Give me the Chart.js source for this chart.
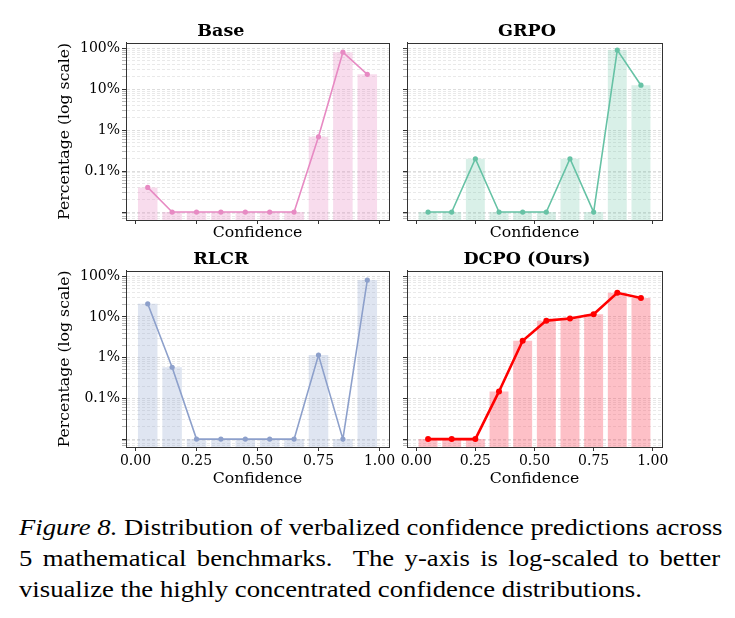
<!DOCTYPE html>
<html>
<head>
<meta charset="utf-8">
<script src="https://cdn.jsdelivr.net/npm/chart.js@4"></script>
<style>
  body { margin: 0; background: #fff; }
  #fig { position: relative; width: 735px; height: 618px; overflow: hidden; }
  .panel { position: absolute; }
  #caption {
    position: absolute; left: 19px; top: 511.7px; width: 604px;
    font-family: "Liberation Serif", "Times New Roman", serif;
    font-size: 23px; line-height: 31px; color: #000;
    transform: scaleX(1.161); transform-origin: 0 0;
  }
  #caption .ln { text-align: justify; text-align-last: justify; white-space: nowrap; }
  #caption .ln.last { text-align-last: left; }
</style>
</head>
<body>
<div id="fig">
  <canvas class="panel" id="cBase" width="400" height="250" style="left:0;top:0"></canvas>
  <canvas class="panel" id="cGrpo" width="290" height="250" style="left:392px;top:0"></canvas>
  <canvas class="panel" id="cRlcr" width="400" height="250" style="left:0;top:245px"></canvas>
  <canvas class="panel" id="cDcpo" width="290" height="250" style="left:392px;top:245px"></canvas>
  <div id="caption">
    <div class="ln"><i>Figure 8.</i> Distribution of verbalized confidence predictions across</div>
    <div class="ln">5 mathematical benchmarks.&nbsp; The y-axis is log-scaled to better</div>
    <div class="ln last">visualize the highly concentrated confidence distributions.</div>
  </div>
</div>
<script>
// bins of the confidence histogram
const binCenters = [0.05, 0.15, 0.25, 0.35, 0.45, 0.55, 0.65, 0.75, 0.85, 0.95];
const xTickValues = [0, 0.25, 0.5, 0.75, 1];
const xTickLabels = ['0.00', '0.25', '0.50', '0.75', '1.00'];
const yMajorValues = [0.01, 0.1, 1, 10, 100];
const yTickLabels = ['', '0.1%', '1%', '10%', '100%'];

// percentage per bin (log scale)
const baseValues = [0.04, 0.01, 0.01, 0.01, 0.01, 0.01, 0.01, 0.69, 80, 23];
const grpoValues = [0.01, 0.01, 0.2, 0.01, 0.01, 0.01, 0.2, 0.01, 90, 12.5];
const rlcrValues = [21, 0.58, 0.01, 0.01, 0.01, 0.01, 0.01, 1.16, 0.01, 80];
const dcpoValues = [0.01, 0.01, 0.01, 0.148, 2.6, 8.1, 9.1, 11.6, 39, 29];

const yMin = 0.0064, yMax = 137;
const xMin = -0.039, xMax = 1.039;

Chart.defaults.font.family = '"DejaVu Serif", serif';
Chart.defaults.color = '#000';

// major + minor ticks of the log axis
const yTicks = [];
[0.001].concat(yMajorValues).forEach(d => {
    for (let m = 1; m <= 9; m++) {
        const v = m === 1 ? d : d * m;
        if (v >= yMin && v <= yMax) yTicks.push(v);
    }
});
yTicks.sort((a, b) => a - b);

function isMajor(v) {
    return yMajorValues.some(d => Math.abs(v / d - 1) < 1e-9);
}

// frame around the axes like matplotlib spines
const framePlugin = {
    id: 'frame',
    afterDatasetsDraw(chart) {
        const { ctx, chartArea: a } = chart;
        ctx.save();
        ctx.strokeStyle = '#333';
        ctx.lineWidth = 1;
        ctx.strokeRect(Math.round(a.left) + 0.5, Math.round(a.top) + 0.5,
            Math.round(a.right - a.left), Math.round(a.bottom - a.top));
        ctx.restore();
    }
};

function makePanel(id, title, values, color, fill, p) {
    const pts = binCenters.map((x, i) => ({ x: x, y: values[i] }));
    new Chart(document.getElementById(id), {
        type: 'bar',
        data: {
            datasets: [
                {
                    type: 'line',
                    data: pts,
                    borderColor: color,
                    backgroundColor: color,
                    borderWidth: p.lw,
                    pointRadius: p.pr,
                    pointBorderWidth: 0,
                    order: 0,
                },
                {
                    type: 'bar',
                    data: pts,
                    backgroundColor: fill,
                    borderWidth: 0,
                    categoryPercentage: 0.8,
                    barPercentage: 1,
                    order: 1,
                },
            ],
        },
        options: {
            responsive: false,
            animation: false,
            layout: { padding: p.pad },
            plugins: {
                legend: { display: false },
                tooltip: { enabled: false },
                title: {
                    display: true,
                    text: title,
                    font: { size: 17.5, weight: 'bold' },
                    color: '#000',
                    padding: { top: 0, bottom: 0.6 },
                },
            },
            scales: {
                x: {
                    type: 'linear',
                    min: xMin,
                    max: xMax,
                    offset: false,
                    afterBuildTicks: axis => { axis.ticks = xTickValues.map(v => ({ value: v })); },
                    afterFit: axis => { axis.height = p.xh; },
                    grid: { display: true, offset: false, drawOnChartArea: false, tickLength: 4, tickColor: '#333' },
                    border: { color: '#333' },
                    ticks: {
                        autoSkip: false,
                        maxRotation: 0,
                        padding: 2,
                        font: { size: 14 },
                        callback: (v, i) => p.xLabels ? xTickLabels[i] : '',
                    },
                    title: {
                        display: true,
                        text: 'Confidence',
                        font: { size: 15.7 },
                        padding: { top: 0, bottom: 1.6 },
                    },
                },
                y: {
                    type: 'logarithmic',
                    min: yMin,
                    max: yMax,
                    afterBuildTicks: axis => { axis.ticks = yTicks.map(v => ({ value: v })); },
                    afterFit: axis => { axis.width = p.yw; },
                    grid: {
                        color: c => isMajor(c.tick.value) ? '#d4d4d4' : '#e3e3e3',
                        lineWidth: 0.8,
                        tickLength: 4,
                        tickColor: c => isMajor(c.tick.value) ? '#333' : '#888',
                        tickWidth: c => isMajor(c.tick.value) ? 1 : 0.6,
                    },
                    border: { color: '#333', dash: [3, 2] },
                    ticks: {
                        autoSkip: false,
                        padding: 2,
                        font: { size: 14 },
                        callback: v => {
                            if (!p.yLabels) return '';
                            const k = yMajorValues.findIndex(d => Math.abs(v / d - 1) < 1e-9);
                            return k >= 0 ? yTickLabels[k] : '';
                        },
                    },
                    title: {
                        display: p.yLabels,
                        text: 'Percentage (log scale)',
                        font: { size: 15.7 },
                        padding: { top: 3.3, bottom: 0 },
                    },
                },
            },
        },
        plugins: [framePlugin],
    });
}

makePanel('cBase', 'Base', baseValues, '#e78ac3', 'rgba(231,138,195,0.3)',
    { lw: 1.6, pr: 2.6, xLabels: false, yLabels: true, xh: 24, yw: 73.3, pad: { left: 52.7, right: 11, top: 21, bottom: 6 } });
makePanel('cGrpo', 'GRPO', grpoValues, '#66c2a5', 'rgba(102,194,165,0.25)',
    { lw: 1.6, pr: 2.6, xLabels: false, yLabels: false, xh: 24, yw: 15, pad: { left: 0, right: 20, top: 21, bottom: 6 } });
makePanel('cRlcr', 'RLCR', rlcrValues, '#8da0cb', 'rgba(141,160,203,0.28)',
    { lw: 1.6, pr: 2.6, xLabels: true, yLabels: true, xh: 43, yw: 73.3, pad: { left: 52.7, right: 11, top: 4, bottom: 5 } });
makePanel('cDcpo', 'DCPO (Ours)', dcpoValues, '#ff0000', 'rgba(250,60,80,0.32)',
    { lw: 2.6, pr: 3, xLabels: true, yLabels: false, xh: 43, yw: 15, pad: { left: 0, right: 20, top: 4, bottom: 5 } });
</script>
</body>
</html>
